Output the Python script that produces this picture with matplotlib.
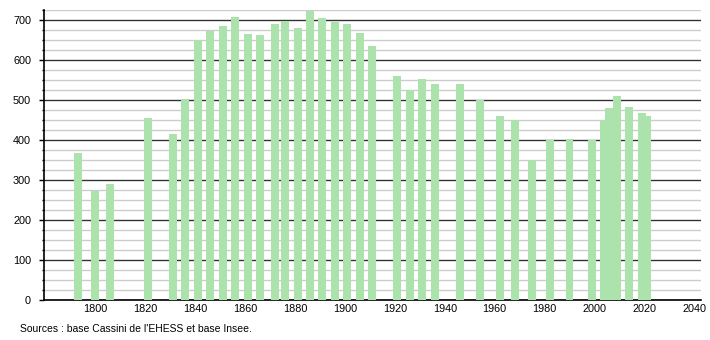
import matplotlib
matplotlib.use("Agg")
import matplotlib.pyplot as plt
from matplotlib.ticker import MultipleLocator

years = [1793, 1800, 1806, 1821, 1831, 1836, 1841, 1846, 1851, 1856, 1861, 1866,
         1872, 1876, 1881, 1886, 1891, 1896, 1901, 1906, 1911, 1921, 1926, 1931,
         1936, 1946, 1954, 1962, 1968, 1975, 1982, 1990, 1999, 2004, 2006, 2009,
         2014, 2019, 2021]
population = [367, 273, 290, 455, 415, 502, 650, 672, 685, 707, 665, 662,
              690, 697, 679, 722, 704, 694, 690, 667, 635, 560, 524, 552,
              540, 540, 500, 460, 449, 349, 400, 402, 400, 450, 480, 510,
              482, 467, 460]
x_ticks = [1800, 1820, 1840, 1860, 1880, 1900, 1920, 1940, 1960, 1980, 2000, 2020, 2040]
y_ticks = [0, 100, 200, 300, 400, 500, 600, 700]
source_text = "Sources : base Cassini de l'EHESS et base Insee."

plt.rcParams['font.family'] = ['Liberation Sans', 'DejaVu Sans']

fig = plt.figure(figsize=(7.1, 3.4), dpi=100)
ax = fig.add_axes([44/710, 1 - 300/340, (701 - 44)/710, 290/340])

ax.bar(years, population, width=3.2, color='#ace3ac', zorder=3, linewidth=0)

ax.set_xlim(1779.4, 2042.7)
ax.set_ylim(0, 725)

ax.yaxis.set_major_locator(MultipleLocator(100))
ax.yaxis.set_minor_locator(MultipleLocator(25))
ax.set_yticks(y_ticks)
ax.set_xticks(x_ticks)
ax.set_xticklabels([str(t) for t in x_ticks])

ax.grid(axis='y', which='minor', color='#cccccc', linewidth=1.0, zorder=1)
ax.grid(axis='y', which='major', color='#333333', linewidth=1.0, zorder=2)
ax.grid(axis='x', visible=False)

for s in ['top', 'right']:
    ax.spines[s].set_visible(False)
ax.spines['left'].set_color('black')
ax.spines['bottom'].set_color('black')
ax.spines['left'].set_linewidth(1.2)
ax.spines['bottom'].set_linewidth(1.2)

ax.tick_params(axis='y', which='major', length=3.8, width=1.0, direction='out', pad=5.5,
               labelsize=7.8, colors='black')
ax.tick_params(axis='y', which='minor', length=1.8, width=1.0, direction='out', colors='black')
ax.tick_params(axis='x', which='both', length=0, pad=3.2, labelsize=7.8)

fig.text(20/710, 1 - 329/340, source_text, fontsize=7.5, va='center', ha='left')

fig.savefig("out.png", dpi=100)
